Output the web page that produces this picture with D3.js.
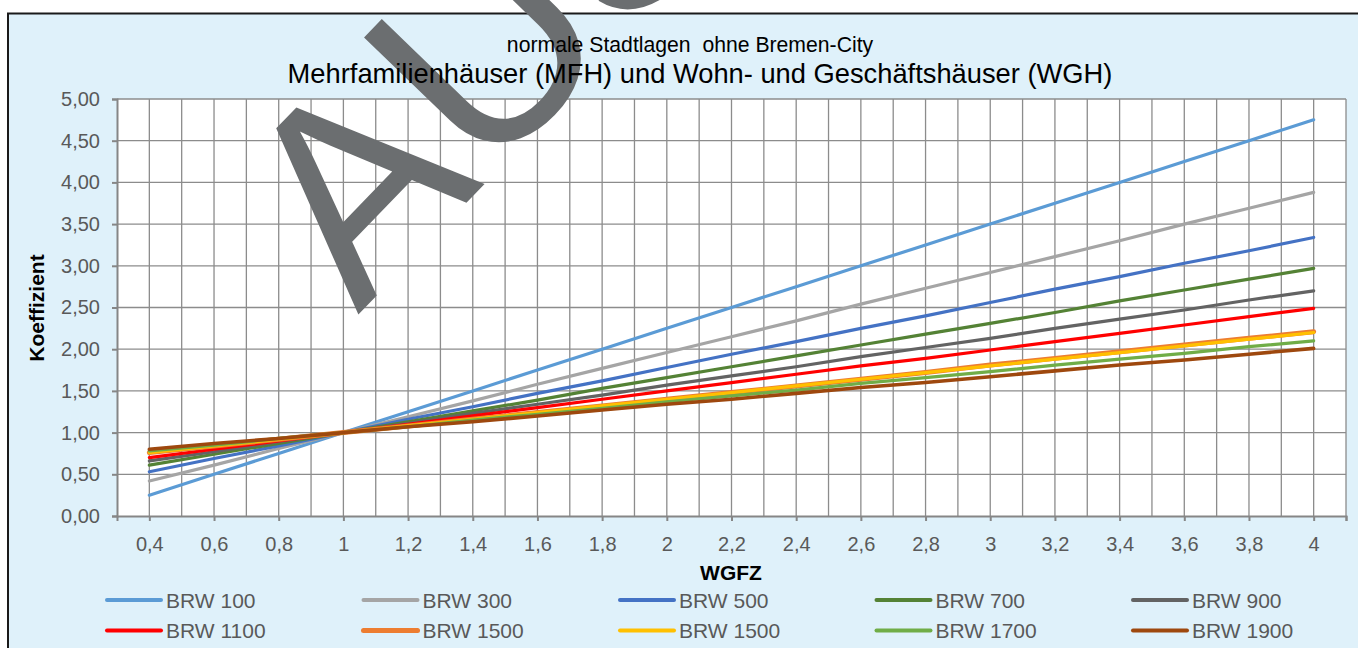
<!DOCTYPE html>
<html>
<head>
<meta charset="utf-8">
<script src="https://cdn.jsdelivr.net/npm/d3@7"></script>
<style>
  body { margin: 0; background: #fff; }
  svg text { font-family: "Liberation Sans", Arial, sans-serif; }
</style>
</head>
<body>
<div id="chart"></div>
<script>
// WGFZ values (category positions)
var wgfz = [0.4, 0.6, 0.8, 1, 1.2, 1.4, 1.6, 1.8, 2, 2.2, 2.4, 2.6, 2.8, 3, 3.2, 3.4, 3.6, 3.8, 4];

var seriesNames = ['BRW 100', 'BRW 300', 'BRW 500', 'BRW 700', 'BRW 900',
                   'BRW 1100', 'BRW 1500', 'BRW 1500', 'BRW 1700', 'BRW 1900'];

var brw100  = [0.25, 0.50, 0.75, 1.00, 1.25, 1.50, 1.75, 2.00, 2.25, 2.50, 2.75, 3.00, 3.25, 3.50, 3.75, 4.00, 4.25, 4.50, 4.75];
var brw300  = [0.42, 0.61, 0.81, 1.00, 1.19, 1.38, 1.58, 1.77, 1.96, 2.15, 2.34, 2.54, 2.73, 2.92, 3.11, 3.30, 3.50, 3.69, 3.88];
var brw500  = [0.53, 0.69, 0.84, 1.00, 1.16, 1.31, 1.47, 1.62, 1.78, 1.94, 2.09, 2.25, 2.40, 2.56, 2.72, 2.87, 3.03, 3.18, 3.34];
var brw700  = [0.61, 0.74, 0.87, 1.00, 1.13, 1.26, 1.39, 1.53, 1.66, 1.79, 1.92, 2.05, 2.18, 2.31, 2.44, 2.58, 2.71, 2.84, 2.97];
var brw900  = [0.66, 0.77, 0.89, 1.00, 1.11, 1.23, 1.34, 1.45, 1.57, 1.68, 1.79, 1.91, 2.02, 2.13, 2.25, 2.36, 2.47, 2.59, 2.70];
var brw1100 = [0.70, 0.80, 0.90, 1.00, 1.10, 1.20, 1.30, 1.40, 1.50, 1.60, 1.70, 1.80, 1.89, 1.99, 2.09, 2.19, 2.29, 2.39, 2.49];
var brw1500a = [0.76, 0.84, 0.92, 1.00, 1.08, 1.16, 1.24, 1.32, 1.40, 1.48, 1.56, 1.64, 1.72, 1.81, 1.89, 1.97, 2.05, 2.13, 2.21];
var brw1500b = [0.76, 0.84, 0.92, 1.00, 1.08, 1.16, 1.24, 1.32, 1.40, 1.48, 1.56, 1.64, 1.72, 1.80, 1.88, 1.96, 2.04, 2.12, 2.20];
var brw1700 = [0.78, 0.85, 0.93, 1.00, 1.07, 1.15, 1.22, 1.29, 1.37, 1.44, 1.51, 1.59, 1.66, 1.73, 1.81, 1.88, 1.95, 2.03, 2.10];
var brw1900 = [0.80, 0.87, 0.93, 1.00, 1.07, 1.13, 1.20, 1.27, 1.34, 1.40, 1.47, 1.54, 1.60, 1.67, 1.74, 1.81, 1.87, 1.94, 2.01];

var seriesValues = [brw100, brw300, brw500, brw700, brw900, brw1100, brw1500a, brw1500b, brw1700, brw1900];
var seriesColors = ['#5b9bd5', '#a5a5a5', '#4472c4', '#548235', '#636363',
                    '#ff0000', '#ed7d31', '#ffc000', '#70ad47', '#9e480e'];
var seriesWidths = [3.2, 3.2, 3.2, 3.2, 3.2, 3.2, 5, 3.2, 3.2, 3.6];

var yTicks = [0, 0.5, 1, 1.5, 2, 2.5, 3, 3.5, 4, 4.5, 5];

var width = 1358, height = 648;
var plot = {left: 117, right: 1346, top: 99, bottom: 516};

var svg = d3.select('#chart')
    .append('svg')
    .attr('width', width)
    .attr('height', height);

// chart area
svg.append('rect')
    .attr('x', 8)
    .attr('y', 13.5)
    .attr('width', 1360)
    .attr('height', 650)
    .attr('fill', '#dff1fa')
    .attr('stroke', '#1a1a1a')
    .attr('stroke-width', 2);

var xScale = d3.scaleLinear()
    .domain([0.3, 4.1])
    .range([plot.left, plot.right]);

var yScale = d3.scaleLinear()
    .domain([0, 5])
    .range([plot.bottom, plot.top]);

svg.append('rect')
    .attr('x', plot.left)
    .attr('y', plot.top)
    .attr('width', plot.right - plot.left)
    .attr('height', plot.bottom - plot.top)
    .attr('fill', '#fff');

// grid lines: vertical every 0.1, horizontal every 0.5
var xGrid = d3.range(4, 42).map(function(d) { return d / 10; });
var grid = svg.append('g').attr('stroke', '#8c8c8c').attr('stroke-width', 1.3);

grid.selectAll('.vg')
    .data(xGrid)
    .enter()
    .append('line')
    .attr('x1', function(d) { return xScale(d); })
    .attr('x2', function(d) { return xScale(d); })
    .attr('y1', plot.top)
    .attr('y2', plot.bottom);

grid.selectAll('.hg')
    .data(yTicks.slice(1))
    .enter()
    .append('line')
    .attr('x1', plot.left)
    .attr('x2', plot.right)
    .attr('y1', function(d) { return yScale(d); })
    .attr('y2', function(d) { return yScale(d); });

// axes
var xAxis = d3.axisBottom(xScale)
    .tickValues(wgfz.concat([4.1]))
    .tickSize(5)
    .tickPadding(12)
    .tickFormat(function(d) { return d === 4.1 ? '' : String(d).replace('.', ','); });

var yAxis = d3.axisLeft(yScale)
    .tickValues(yTicks)
    .tickSize(5)
    .tickPadding(12)
    .tickFormat(function(d) { return d.toFixed(2).replace('.', ','); });

var gx = svg.append('g')
    .attr('transform', 'translate(0,' + plot.bottom + ')')
    .call(xAxis);

var gy = svg.append('g')
    .attr('transform', 'translate(' + plot.left + ',0)')
    .call(yAxis);

[gx, gy].forEach(function(g) {
    g.select('.domain').attr('stroke', '#868686').attr('stroke-width', 2);
    g.selectAll('.tick line').attr('stroke', '#868686').attr('stroke-width', 2);
    g.selectAll('.tick text')
        .attr('fill', '#595959')
        .style('font-size', '20px')
        .style('font-family', '"Liberation Sans", Arial, sans-serif');
});
gx.selectAll('.tick text').attr('dy', '0.9em');

// series lines
var line = d3.line()
    .x(function(d, i) { return xScale(wgfz[i]); })
    .y(function(d) { return yScale(d); });

svg.append('g')
    .selectAll('path')
    .data(seriesValues)
    .enter()
    .append('path')
    .attr('d', line)
    .attr('fill', 'none')
    .attr('stroke', function(d, i) { return seriesColors[i]; })
    .attr('stroke-width', function(d, i) { return seriesWidths[i]; })
    .attr('stroke-linecap', 'round');

// watermark
svg.append('text')
    .attr('transform', 'translate(358,315) rotate(-46)')
    .style('font-size', '274px')
    .attr('fill', '#6b6e70')
    .text('AUSZUG');

// titles
svg.append('text')
    .attr('x', 690)
    .attr('y', 52)
    .attr('text-anchor', 'middle')
    .style('font-size', '21.2px')
    .style('white-space', 'pre')
    .attr('fill', '#000')
    .text('normale Stadtlagen  ohne Bremen-City');

svg.append('text')
    .attr('x', 700)
    .attr('y', 83)
    .attr('text-anchor', 'middle')
    .style('font-size', '27.3px')
    .attr('fill', '#000')
    .text('Mehrfamilienhäuser (MFH) und Wohn- und Geschäftshäuser (WGH)');

svg.append('text')
    .attr('x', 731)
    .attr('y', 580)
    .attr('text-anchor', 'middle')
    .style('font-size', '21px')
    .style('font-weight', 'bold')
    .text('WGFZ');

svg.append('text')
    .attr('transform', 'translate(44,308) rotate(-90)')
    .attr('text-anchor', 'middle')
    .style('font-size', '21px')
    .style('font-weight', 'bold')
    .text('Koeffizient');

// legend
var legend = svg.append('g')
    .selectAll('g')
    .data(seriesNames)
    .enter()
    .append('g')
    .attr('transform', function(d, i) {
        return 'translate(' + (107 + (i % 5) * 256.5) + ',' + (600 + Math.floor(i / 5) * 30.5) + ')';
    });

legend.append('line')
    .attr('x1', 0)
    .attr('x2', 54)
    .attr('stroke', function(d, i) { return seriesColors[i]; })
    .attr('stroke-width', function(d, i) { return i === 6 ? 5 : 4; })
    .attr('stroke-linecap', 'round');

legend.append('text')
    .attr('x', 59)
    .attr('dy', '0.36em')
    .attr('fill', '#595959')
    .style('font-size', '21px')
    .text(function(d) { return d; });
</script>
</body>
</html>
